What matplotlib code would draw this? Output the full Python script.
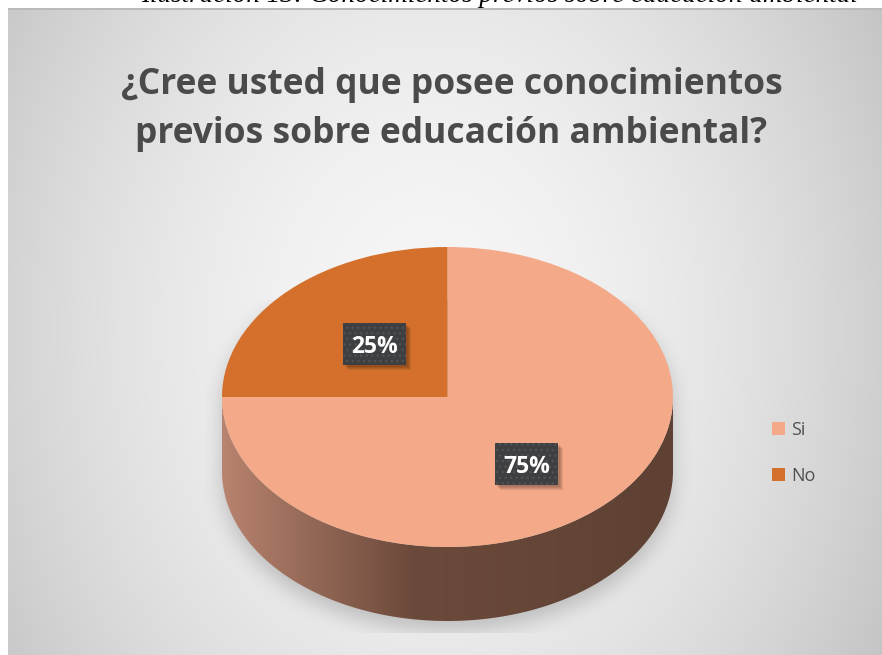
import numpy as np
import matplotlib
matplotlib.use("Agg")
import matplotlib.pyplot as plt
from matplotlib.patches import Polygon, Rectangle
from matplotlib import transforms

# ---- data ----
categories = ["Si", "No"]
values = [75, 25]
pct_labels = ["75%", "25%"]
colors = ["#F4A988", "#D4702C"]
title_lines = ["¿Cree usted que posee conocimientos", "previos sobre educación ambiental?"]
caption = "Ilustración 13: Conocimientos previos sobre educación ambiental"

W, H = 882, 655
fig = plt.figure(figsize=(W / 100, H / 100), dpi=100)

# ---- background (pixel space) ----
bg_ax = fig.add_axes([0, 0, 1, 1])
bg_ax.set_xlim(0, W)
bg_ax.set_ylim(H, 0)
bg_ax.axis("off")

yy, xx = np.mgrid[0:H, 0:W] + 0.5
d = np.sqrt(((xx - 430) / 470) ** 2 + ((yy - 330) / 600) ** 2)
val = 0.965 - 0.20 * (d / 1.12) ** 1.8
img = np.dstack([val, val, val])

# pie geometry in pixels
cx, cy, a, b, depth = 447.5, 397.0, 225.5, 150.0, 74.0

def inside_ell(x, y, ccy):
    return ((x - cx) / a) ** 2 + ((y - ccy) / b) ** 2 <= 1.0

sil = (inside_ell(xx, yy - 10, cy) | inside_ell(xx, yy - 10, cy + depth) |
       ((np.abs(xx - cx) <= a) & (yy - 10 >= cy) & (yy - 10 <= cy + depth))).astype(float)

def box_blur(arr, r):
    out = arr.copy()
    for axis in (0, 1):
        c = np.cumsum(np.pad(out, [(r + 1, r) if i == axis else (0, 0) for i in range(2)], mode="edge"), axis=axis)
        if axis == 0:
            out = (c[2 * r + 1:, :] - c[:-2 * r - 1, :]) / (2 * r + 1)
        else:
            out = (c[:, 2 * r + 1:] - c[:, :-2 * r - 1]) / (2 * r + 1)
    return out

sh = sil
for _ in range(3):
    sh = box_blur(sh, 9)
clip = (xx >= 205) & (xx <= 692) & (yy >= 300) & (yy <= 633)
sh = sh * clip
img = img * (1 - 0.19 * sh[..., None])

frame = (xx >= 8) & (yy >= 8)
img[~frame] = 1.0
img[(yy >= 8) & (yy < 10) & (xx >= 8)] = 0.73
img = np.clip(img, 0, 1)
bg_ax.imshow(img, extent=[0, W, H, 0], interpolation="bilinear", zorder=0)

# caption (cut off at the top of the page)
bg_ax.text(858, 1.8, caption, ha="right", va="baseline", fontsize=19.5,
           family="Liberation Serif", style="italic", color="black", zorder=2,
           clip_on=False)

# title
for i, line in enumerate(title_lines):
    fig.text(451.5 / W, 1 - (94 + 49 * i) / H, line, ha="center", va="baseline",
             fontsize=25.5, fontweight="bold", family="Open Sans", color="#4a4a4a")

# ---- pie axes ----
D = depth / b
ax = fig.add_axes([(cx - a) / W, (H - (cy + b + depth)) / H, 2 * a / W, (2 * b + depth) / H])
wedges, _ = ax.pie(values, colors=colors, startangle=90, counterclock=False,
                   radius=1, wedgeprops=dict(linewidth=0), labels=None)
for w in wedges:
    w.set_zorder(3)
ax.set_aspect("auto")
ax.set_xlim(-1, 1)
ax.set_ylim(-1 - D, 1)
ax.set_autoscale_on(False)
ax.axis("off")
ax.patch.set_alpha(0)

# side of the 3D pie
th = np.linspace(np.pi, 2 * np.pi, 200)
side_xy = np.concatenate([
    np.column_stack([np.cos(th), np.sin(th)]),
    np.column_stack([np.cos(th[::-1]), np.sin(th[::-1]) - D]),
])
side = Polygon(side_xy, closed=True, facecolor="none", edgecolor="none")
ax.add_patch(side)
gx = np.linspace(0, 1, 300)
c0 = np.array([0xB8, 0x83, 0x6F]) / 255
c1 = np.array([0x6C, 0x4A, 0x3B]) / 255
c2 = np.array([0x5E, 0x41, 0x33]) / 255
t1 = np.clip(gx / 0.42, 0, 1)[:, None]
t2 = np.clip((gx - 0.42) / 0.58, 0, 1)[:, None]
grad = np.where(gx[:, None] < 0.42, c0 + (c1 - c0) * t1, c1 + (c2 - c1) * t2)
grad_img = np.repeat(grad[None, :, :], 2, axis=0)
gi = ax.imshow(grad_img, extent=[-1, 1, -1 - D, 0], aspect="auto", zorder=2,
               interpolation="bilinear")
gi.set_clip_path(side)
ax.set_xlim(-1, 1)
ax.set_ylim(-1 - D, 1)

# percentage labels (boxes in display pixels, centred on the label point)
label_rx = [0.495, 0.455]
label_ry = [0.632, 0.50]
box_w, box_h = 63, 42
ident = transforms.IdentityTransform()
ang = 90.0
for v, txt, rx, ry in zip(values, pct_labels, label_rx, label_ry):
    span = 360.0 * v / sum(values)
    mid = np.deg2rad(ang - span / 2)
    ang -= span
    x, y = rx * np.cos(mid), ry * np.sin(mid)
    px, py = ax.transData.transform((x, y))
    for k in range(4):
        sp = Rectangle((px - box_w / 2 + 2 + k, py - box_h / 2 - 2 - k), box_w, box_h,
                       facecolor="black", alpha=0.08, linewidth=0, zorder=4)
        sp.set_transform(ident)
        ax.add_artist(sp)
    bx = Rectangle((px - box_w / 2, py - box_h / 2), box_w, box_h,
                   facecolor="#3E3F41", edgecolor="#505255", hatch="...",
                   linewidth=0, zorder=5)
    bx.set_transform(ident)
    ax.add_artist(bx)
    ax.text(x, y, txt, ha="center", va="center_baseline", fontsize=16.5, fontweight="bold",
            family="Open Sans", color="white", zorder=6)

# legend
leg = ax.legend(wedges, categories, loc="center left",
                bbox_to_anchor=(772 / W, 1 - 453 / H), bbox_transform=fig.transFigure,
                frameon=False, handlelength=0.72, handleheight=0.72,
                labelspacing=1.55, handletextpad=0.35, borderpad=0, borderaxespad=0,
                labelcolor="#505050", prop=dict(family="Open Sans", size=13))

fig.savefig("out.png", dpi=100)
